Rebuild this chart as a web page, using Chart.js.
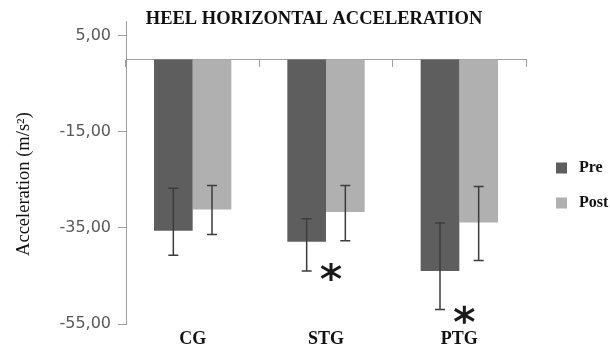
<!DOCTYPE html>
<html>
<head>
<meta charset="utf-8">
<script src="https://cdn.jsdelivr.net/npm/chart.js@4.4.0/dist/chart.umd.min.js"></script>
<style>
  html, body { margin: 0; padding: 0; background: #fff; }
</style>
</head>
<body>
<canvas id="accChart" width="610" height="347"></canvas>
<script>
// values (m/s²), error bars stored as their ends
const groups = ['CG', 'STG', 'PTG'];
const preMean = [-35.6, -37.9, -44.0];
const preHigh = [-26.8, -33.1, -34.0];
const preLow = [-40.7, -44.0, -52.0];
const postMean = [-31.2, -31.7, -33.9];
const postHigh = [-26.2, -26.2, -26.4];
const postLow = [-36.4, -37.7, -41.8];
const sigMarks = [null, -44.2, -53.1];   // asterisk heights
const yTicks = [-55, -35, -15, 5];

const serif = '"Liberation Serif", "Times New Roman", serif';

// error bars + asterisks, drawn through the scales
const errorBars = {
  id: 'errorBars',
  afterDatasetsDraw(chart) {
    const { ctx, scales: { x, y } } = chart;
    ctx.save();
    ctx.strokeStyle = '#3c3c3c';
    ctx.lineWidth = 1.5;
    chart.data.datasets.forEach((ds, di) => {
      chart.getDatasetMeta(di).data.forEach((bar, i) => {
        const top = y.getPixelForValue(ds.errHigh[i]);
        const bot = y.getPixelForValue(ds.errLow[i]);
        ctx.beginPath();
        ctx.moveTo(bar.x, top); ctx.lineTo(bar.x, bot);
        ctx.moveTo(bar.x - 5, top); ctx.lineTo(bar.x + 5, top);
        ctx.moveTo(bar.x - 5, bot); ctx.lineTo(bar.x + 5, bot);
        ctx.stroke();
      });
    });
    // significance asterisks: vertical arm plus two diagonals
    ctx.strokeStyle = '#1a1a1a';
    ctx.lineWidth = 3;
    sigMarks.forEach((v, i) => {
      if (v === null) return;
      const cx = x.getPixelForValue(i) + 5;
      const cy = y.getPixelForValue(v);
      ctx.beginPath();
      ctx.moveTo(cx, cy - 9); ctx.lineTo(cx, cy + 9);
      [Math.PI / 6, -Math.PI / 6].forEach(a => {
        ctx.moveTo(cx - 11 * Math.cos(a), cy - 11 * Math.sin(a));
        ctx.lineTo(cx + 11 * Math.cos(a), cy + 11 * Math.sin(a));
      });
      ctx.stroke();
    });
    ctx.restore();
  },
  afterDraw(chart) {
    const { ctx, chartArea } = chart;
    ctx.save();
    ctx.fillStyle = '#111';
    ctx.textAlign = 'center';
    ctx.textBaseline = 'middle';
    ctx.font = 'bold 18.5px ' + serif;
    ctx.fillText('HEEL HORIZONTAL ACCELERATION', (18 + chart.width) / 2, 19);
    // legend on the right
    ctx.textAlign = 'left';
    ctx.font = 'bold 16px ' + serif;
    chart.data.datasets.forEach((ds, i) => {
      const bx = chartArea.right + 30;
      const cy = 168 + i * 35;
      ctx.fillStyle = ds.backgroundColor;
      ctx.fillRect(bx, cy - 5.5, 11, 11);
      ctx.fillStyle = '#111';
      ctx.fillText(ds.label, bx + 23, cy);
    });
    ctx.restore();
  }
};

new Chart(document.getElementById('accChart'), {
  type: 'bar',
  data: {
    labels: groups,
    datasets: [
      { label: 'Pre', data: preMean, errHigh: preHigh, errLow: preLow, backgroundColor: '#5e5e5e' },
      { label: 'Post', data: postMean, errHigh: postHigh, errLow: postLow, backgroundColor: '#b0b0b0' }
    ]
  },
  options: {
    responsive: false,
    animation: false,
    categoryPercentage: 0.58,
    barPercentage: 1,
    layout: { padding: { left: 10, right: 84, top: 21, bottom: 0 } },
    plugins: {
      legend: { display: false },
      tooltip: { enabled: false }
    },
    scales: {
      x: {
        position: { y: 0 },
        ticks: { display: false },
        grid: { drawOnChartArea: false, color: '#a0a0a0', tickLength: 7 },
        border: { color: '#a0a0a0' }
      },
      x2: {
        axis: 'x',
        type: 'category',
        position: 'bottom',
        offset: true,
        grid: { display: false, drawTicks: false },
        border: { display: false },
        ticks: { color: '#111', padding: 5, font: { family: serif, size: 18, weight: 'bold' } },
        afterFit: s => { s.height = 23; }
      },
      y: {
        min: -55,
        max: 8,
        afterBuildTicks: s => { s.ticks = yTicks.map(v => ({ value: v })); },
        afterFit: s => { s.width = 116; },
        ticks: {
          color: '#595959',
          padding: 7,
          font: { family: 'DejaVu Sans', size: 16 },
          callback: v => v.toFixed(2).replace('.', ',')
        },
        grid: { drawOnChartArea: false, color: '#a0a0a0', tickLength: 8 },
        border: { color: '#a0a0a0' },
        title: {
          display: true,
          text: 'Acceleration (m/s²)     ',
          color: '#111',
          padding: { top: 3, bottom: 0 },
          font: { family: serif, size: 18.5 }
        }
      }
    }
  },
  plugins: [errorBars]
});
</script>
</body>
</html>
